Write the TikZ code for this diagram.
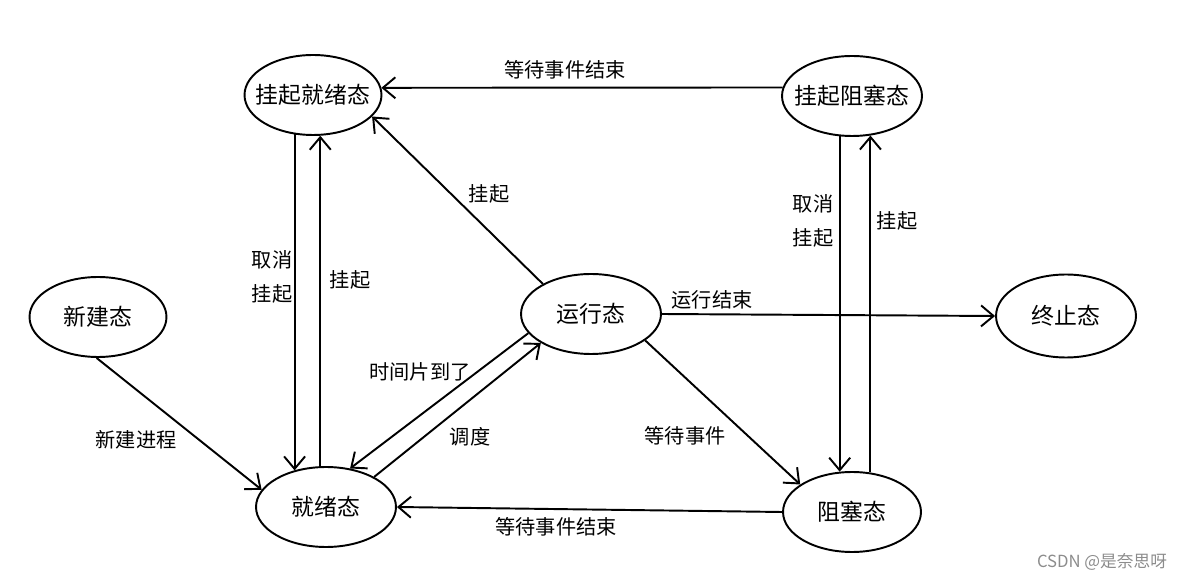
\documentclass[tikz,border=0pt]{standalone}
\usepackage{fontspec}
\newfontfamily\cjk{Noto Sans CJK SC}
\usetikzlibrary{shapes.geometric,arrows.meta}

\tikzset{
	state/.style={ellipse, draw, line width=1.1pt, minimum width=2.8cm, minimum height=1.6cm, inner ysep=0pt, inner xsep=-0.18cm, font=\cjk\fontsize{13}{15}\selectfont},
	lbl/.style={inner sep=1pt, font=\cjk\fontsize{11.5}{19}\selectfont, align=center},
	arr/.style={line width=1.1pt, -{Straight Barb[length=0.25cm, width=0.42cm, line width=1.1pt]}}
}

\begin{document}
\begin{tikzpicture}[x=0.02cm, y=-0.02cm]
			\useasboundingbox (0,0) rectangle (1186,580);
			% states
			\node (gjx) [state, minimum width=2.74cm] at (313,95) {挂起就绪态};
			\node (gzs) [state] at (852,96) {挂起阻塞态};
			\node (xj) [state, minimum width=2.74cm] at (98,317) {新建态};
			\node (yx) [state] at (591,314) {运行态};
			\node (zz) [state, minimum height=1.66cm] at (1066,316) {终止态};
			\node (jx) [state] at (326,507) {就绪态};
			\node (zs) [state, minimum width=2.76cm] at (852,512) {阻塞态};
			% transitions
			\draw [arr] (gzs.173) -- (gjx.6);
			\draw [arr] (yx.148) -- (gjx.340);
			\draw [arr] (gjx.245) -- (gjx.245 |- jx.131);
			\draw [arr] (jx.98) -- (jx.98 |- gjx.280);
			\draw [arr] (xj.268) -- (jx.165);
			\draw [arr] (yx.197) -- (jx.58);
			\draw [arr] (jx.32) -- (yx.210);
			\draw [arr] (yx.east) -- (zz.west);
			\draw [arr] (yx.334) -- (zs.152);
			\draw [arr] (zs.west) -- (jx.east);
			\draw [arr] (gzs.253) -- (gzs.253 |- zs.107);
			\draw [arr] (zs.65) -- (zs.65 |- gzs.295);
			% labels
			\node (l-gjend) [lbl] at (565,70) {等待事件结束};
			\node (l-yxgq) [lbl] at (489,194) {挂起};
			\node (l-qxgq1) [lbl] at (272,277) {取消\\挂起};
			\node (l-gq1) [lbl] at (350,280) {挂起};
			\node (l-new) [lbl] at (136,440) {新建进程};
			\node (l-time) [lbl] at (420,372) {时间片到了};
			\node (l-dd) [lbl] at (470,437) {调度};
			\node (l-end) [lbl] at (712,300) {运行结束};
			\node (l-wait) [lbl] at (685,436) {等待事件};
			\node (l-jxend) [lbl] at (556,527) {等待事件结束};
			\node (l-qxgq2) [lbl] at (813,221) {取消\\挂起};
			\node (l-gq2) [lbl] at (897,221) {挂起};
			\node (mark) [inner sep=0pt, text=black!45, font=\cjk\fontsize{9.5}{11}\selectfont] at (1102,562) {CSDN @是奈思呀};
\end{tikzpicture}
\end{document}
